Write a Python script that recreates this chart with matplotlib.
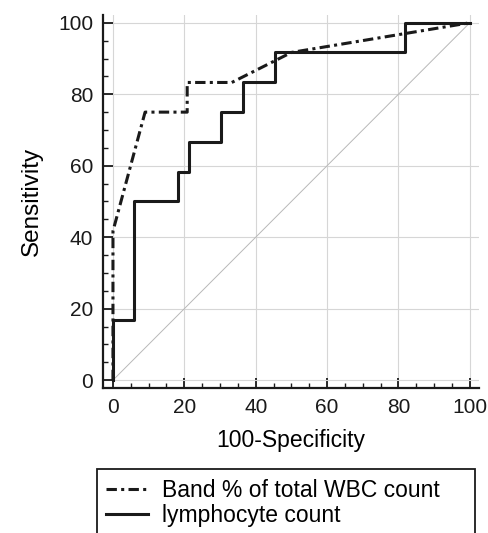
import matplotlib
matplotlib.use("Agg")
import matplotlib.pyplot as plt
from matplotlib.patches import Rectangle
from matplotlib.ticker import MultipleLocator

plt.rcParams['font.family'] = ['Liberation Sans', 'DejaVu Sans']

# ROC curve points (100-Specificity, Sensitivity)
band_x = [0, 0, 9.0, 20.8, 20.8, 33.3, 50, 100]
band_y = [0, 41.7, 75, 75, 83.3, 83.3, 91.7, 100]

lymph_x = [0, 0, 6.0, 6.0, 18.2, 18.2, 21.2, 21.2, 30.3, 30.3, 36.4, 36.4, 45.5, 45.5, 81.8, 81.8, 100]
lymph_y = [0, 16.7, 16.7, 50, 50, 58.3, 58.3, 66.7, 66.7, 75, 75, 83.3, 83.3, 91.7, 91.7, 100, 100]

labels = ['Band % of total WBC count', 'lymphocyte count']

fig = plt.figure(figsize=(4.88, 5.33), dpi=100)
ax = fig.add_axes([0.211, 0.272, 0.770, 0.700])

ax.plot([0, 100], [0, 100], color='#b8b8b8', lw=0.7, zorder=1)
ax.plot(band_x, band_y, color='#1a1a1a', lw=2.2, linestyle=(0, (3.4, 1.4, 1, 1.4)),
        label=labels[0], zorder=3)
ax.plot(lymph_x, lymph_y, color='#1a1a1a', lw=2.2, label=labels[1], zorder=2)

ax.set_xlim(-2.8, 102.5)
ax.set_ylim(-2.2, 102.2)
ax.xaxis.set_major_locator(MultipleLocator(20))
ax.yaxis.set_major_locator(MultipleLocator(20))
ax.xaxis.set_minor_locator(MultipleLocator(5))
ax.yaxis.set_minor_locator(MultipleLocator(5))
ax.grid(True, which='major', color='#d6d6d6', lw=0.8)
ax.set_axisbelow(True)

for s in ['top', 'right']:
    ax.spines[s].set_visible(False)
for s in ['left', 'bottom']:
    ax.spines[s].set_linewidth(1.6)
    ax.spines[s].set_color('#1a1a1a')

ax.tick_params(which='major', direction='in', length=7, width=1.3, labelsize=15,
               pad=7, colors='#1a1a1a')
ax.tick_params(which='minor', direction='in', length=3.5, width=1.0, colors='#1a1a1a')

ax.set_xlabel('100-Specificity', fontsize=16.5, labelpad=9)
ax.set_ylabel('Sensitivity', fontsize=17.5, labelpad=11)

leg = fig.legend(loc='upper left', bbox_to_anchor=(0.199, 0.0, 0.775, 0.119),
                 fontsize=16.5, frameon=False,
                 handlelength=1.8, handletextpad=0.65, borderpad=0.4,
                 labelspacing=0.08, borderaxespad=0)

# legend box runs off the bottom edge of the figure
fig.patches.append(Rectangle((97 / 488, -0.05), (475 - 97) / 488, 0.05 + (533 - 469) / 533,
                             transform=fig.transFigure, fill=False,
                             edgecolor='#1a1a1a', lw=1.3))

fig.savefig('out.png', dpi=100)
